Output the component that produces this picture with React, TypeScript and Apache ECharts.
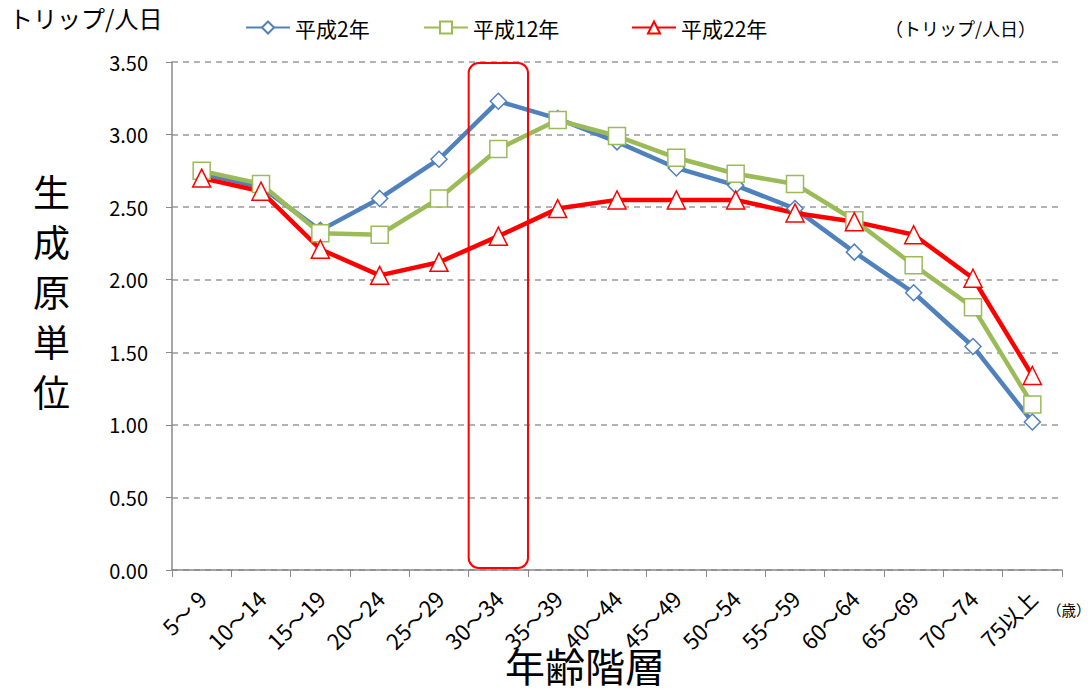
import React, { useEffect, useRef } from "react";
import * as echarts from "echarts";

const categories = ["5～ 9", "10～14", "15～19", "20～24", "25～29", "30～34", "35～39", "40～44", "45～49", "50～54", "55～59", "60～64", "65～69", "70～74", "75以上"];
const h2 = [2.73, 2.64, 2.34, 2.56, 2.83, 3.23, 3.11, 2.95, 2.77, 2.65, 2.49, 2.19, 1.91, 1.54, 1.02];
const h12 = [2.75, 2.66, 2.32, 2.31, 2.56, 2.90, 3.10, 2.99, 2.84, 2.73, 2.66, 2.41, 2.10, 1.81, 1.14];
const h22 = [2.70, 2.61, 2.21, 2.03, 2.12, 2.30, 2.49, 2.55, 2.55, 2.55, 2.46, 2.40, 2.31, 2.01, 1.34];
const seriesNames = ["平成2年", "平成12年", "平成22年"];
const yTicks = { min: 0, max: 3.5, interval: 0.5 };
const highlightIndex = 5;

const FONT = "'Noto Sans CJK JP', 'Noto Sans', sans-serif";

export default function App() {
  const ref = useRef<HTMLDivElement>(null);
  useEffect(() => {
    if (!ref.current) return;
    const chart = echarts.init(ref.current, null, { renderer: "svg" });
    const mk = (name: string, data: number[], color: string, symbol: string, size: number) => ({
      name,
      type: "line",
      data,
      symbol,
      symbolSize: size,
      showAllSymbol: true,
      lineStyle: { color, width: 4.5 },
      itemStyle: { color: "#fff", borderColor: color, borderWidth: 1.5 },
      z: 3,
    });
    const legendBase = {
      top: 12,
      itemWidth: 44,
      itemHeight: 15,
      textStyle: { fontFamily: FONT, fontSize: 21, color: "#000" },
    };
    chart.setOption({
      animation: false,
      textStyle: { fontFamily: FONT },
      grid: { left: 172, right: 30, top: 62, bottom: 125, containLabel: false },
      legend: [
        { ...legendBase, left: 240, data: [seriesNames[0]] },
        { ...legendBase, left: 418, data: [seriesNames[1]] },
        { ...legendBase, left: 626, data: [seriesNames[2]] },
      ],
      xAxis: {
        type: "category",
        data: categories,
        boundaryGap: true,
        axisLine: { lineStyle: { color: "#888", width: 1.5 } },
        axisTick: { show: true, alignWithLabel: false, length: 7, lineStyle: { color: "#888" } },
        axisLabel: { rotate: 45, margin: 24, fontSize: 22, color: "#000", fontFamily: FONT, interval: 0 },
        splitLine: { show: false },
      },
      yAxis: {
        type: "value",
        min: yTicks.min,
        max: yTicks.max,
        interval: yTicks.interval,
        axisLine: { show: true, lineStyle: { color: "#888", width: 1.5 } },
        axisTick: { show: true, length: 6, lineStyle: { color: "#888" } },
        axisLabel: { formatter: (v: number) => v.toFixed(2), fontSize: 20, color: "#000", margin: 24, fontFamily: FONT },
        splitLine: { lineStyle: { color: "#999", type: [6, 5], width: 1.5 } },
      },
      series: [
        mk(seriesNames[0], h2, "#4F81BD", "diamond", 16),
        mk(seriesNames[1], h12, "#9BBB59", "rect", 17),
        mk(seriesNames[2], h22, "#FF0000", "triangle", 18),
      ],
    });
    const x0 = chart.convertToPixel({ xAxisIndex: 0 }, categories[highlightIndex]) as number;
    const x1 = chart.convertToPixel({ xAxisIndex: 0 }, categories[highlightIndex + 1]) as number;
    const yTop = chart.convertToPixel({ yAxisIndex: 0 }, yTicks.max) as number;
    const yBot = chart.convertToPixel({ yAxisIndex: 0 }, yTicks.min) as number;
    const w = x1 - x0;
    chart.setOption({
      graphic: [
        { id: "t1", type: "text", left: 9, top: 5, style: { text: "トリップ/人日", fontSize: 24, fill: "#000", fontFamily: FONT } },
        { id: "t2", type: "text", left: 885, top: 19, style: { text: "（トリップ/人日）", fontSize: 18, fill: "#000", fontFamily: FONT } },
        { id: "t3", type: "text", left: 1047, top: 602, style: { text: "（歳）", fontSize: 14.5, fill: "#000", fontFamily: FONT } },
        { id: "t4", type: "text", left: 505, top: 645, style: { text: "年齢階層", fontSize: 40, fill: "#000", fontFamily: FONT } },
        { id: "t5", type: "text", left: 33, top: 166, style: { text: "生\n成\n原\n単\n位", fontSize: 37, lineHeight: 50, fill: "#000", fontFamily: FONT } },
        {
          id: "hl",
          type: "rect",
          z: 10,
          shape: { x: x0 - w / 2, y: yTop + 1, width: w, height: yBot - yTop - 3, r: 10 },
          style: { fill: "none", stroke: "#FF0000", lineWidth: 2 },
        },
      ],
    });
    return () => chart.dispose();
  }, []);
  return <div ref={ref} style={{ width: 1092, height: 695, position: "absolute", left: 0, top: 0, background: "#fff" }} />;
}
